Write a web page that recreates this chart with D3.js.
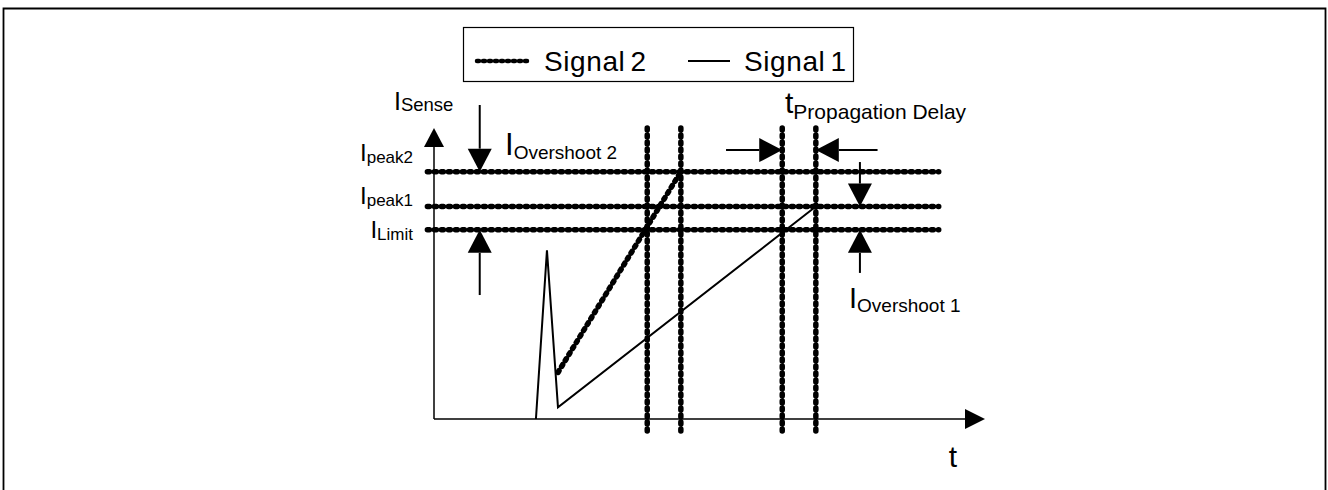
<!DOCTYPE html>
<html>
<head>
<meta charset="utf-8">
<script src="https://cdn.jsdelivr.net/npm/d3@7"></script>
<style>
  body { margin: 0; background: #fff; }
  svg text { font-family: Arial, "Liberation Sans", sans-serif; fill: #000; }
</style>
</head>
<body>
<div id="chart"></div>
<script>
// Current levels (horizontal dotted lines)
var levelNames = ["peak2", "peak1", "Limit"]
var levelValues = [8.5, 7.3, 6.5]

// Times of the vertical dotted marker lines
var markerTimes = [3.87, 4.48, 6.32, 6.93]

// Signal traces: t = time, i = current
var signal1 = [
  {t: 1.85, i: 0},
  {t: 2.05, i: 5.8},
  {t: 2.25, i: 0.4},
  {t: 6.93, i: 7.3}
]
var signal2 = [
  {t: 2.25, i: 1.6},
  {t: 4.48, i: 8.5}
]

var legendLabels = ["Signal2", "Signal1"]

var width = 1328
var height = 490

var svg = d3.select("#chart")
            .append("svg")
            .attr("width", width)
            .attr("height", height)

// outer frame (no bottom edge visible)
svg.append("path")
  .attr("d", "M3.5," + height + " V8.5 H1325.5 V" + height)
  .attr("fill", "none")
  .attr("stroke", "#000")
  .attr("stroke-width", 1.8)

// Scales: time -> px, current -> px
var xscale = d3.scaleLinear().domain([0, 10]).range([434, 985])
var yscale = d3.scaleLinear().domain([0, 10]).range([419, 128])

// draw a line with a filled triangular head at (x2,y2)
function arrow(x1, y1, x2, y2, len, half, sw){
  var dx = x2 - x1, dy = y2 - y1
  var d = Math.sqrt(dx*dx + dy*dy)
  var ux = dx/d, uy = dy/d
  var bx = x2 - ux*len, by = y2 - uy*len
  svg.append("line")
    .attr("x1", x1).attr("y1", y1)
    .attr("x2", bx).attr("y2", by)
    .attr("stroke", "#000")
    .attr("stroke-width", sw)
  svg.append("path")
    .attr("d", "M" + x2 + "," + y2 +
               "L" + (bx - uy*half) + "," + (by + ux*half) +
               "L" + (bx + uy*half) + "," + (by - ux*half) + "Z")
    .attr("fill", "#000")
}

// axes
arrow(xscale(0), yscale(0), xscale(10), yscale(0), 20, 10, 1.5)
arrow(xscale(0), yscale(0), xscale(0), yscale(10), 19, 10, 1.5)

var dotted = function(sel, w){
  return sel.attr("stroke", "#000")
    .attr("stroke-width", w)
    .attr("stroke-linecap", "round")
    .attr("stroke-dasharray", "2,5")
    .attr("fill", "none")
}

// horizontal level lines
svg.selectAll(".level")
  .data(levelValues)
  .enter()
  .append("line")
  .attr("class", "level")
  .attr("x1", xscale(-0.12))
  .attr("x2", xscale(9.16))
  .attr("y1", d => yscale(d))
  .attr("y2", d => yscale(d))
  .call(dotted, 5.5)

// vertical marker lines
svg.selectAll(".marker")
  .data(markerTimes)
  .enter()
  .append("line")
  .attr("class", "marker")
  .attr("x1", d => xscale(d))
  .attr("x2", d => xscale(d))
  .attr("y1", yscale(10.0))
  .attr("y2", yscale(-0.42))
  .call(dotted, 5.5)

var line = d3.line()
  .x(d => xscale(d.t))
  .y(d => yscale(d.i))

svg.append("path")
  .datum(signal1)
  .attr("d", line)
  .attr("fill", "none")
  .attr("stroke", "#000")
  .attr("stroke-width", 2)
  .attr("stroke-linejoin", "miter")

svg.append("path")
  .datum(signal2)
  .attr("d", line)
  .call(dotted, 5.5)

// left labels for the levels, right aligned next to the axis
var labelShift = [-9, -1, 10]
var levelLabels = svg.selectAll(".levelLabel")
  .data(levelValues)
  .enter()
  .append("text")
  .attr("class", "levelLabel")
  .attr("x", 413)
  .attr("y", (d, i) => yscale(d) + labelShift[i] - 2)
  .attr("text-anchor", "end")
  .style("font-size", "24px")
levelLabels.append("tspan").text("I")
levelLabels.append("tspan")
  .attr("dy", 2)
  .style("font-size", "17px")
  .text((d, i) => levelNames[i])

// helper for a big letter with subscript
function subLabel(x, y, main, sub, mainSize, subSize, subDy){
  var t = svg.append("text")
    .attr("x", x)
    .attr("y", y)
    .style("font-size", mainSize + "px")
  t.append("tspan").text(main)
  t.append("tspan")
    .attr("dy", subDy)
    .style("font-size", subSize + "px")
    .text(sub)
}

subLabel(394, 110, "I", "Sense", 25, 18.5, 1)
subLabel(505, 155, "I", "Overshoot 2", 31, 19, 4)
subLabel(785, 113, "t", "Propagation Delay", 30, 21, 6)
subLabel(849, 308, "I", "Overshoot 1", 29, 19, 4)

svg.append("text")
  .attr("x", 953)
  .attr("y", 467)
  .attr("text-anchor", "middle")
  .style("font-size", "30px")
  .text("t")

// overshoot / delay annotation arrows
var ax2 = xscale(0.83)
arrow(ax2, yscale(10.79), ax2, yscale(levelValues[0]), 23, 12, 2)
arrow(ax2, yscale(4.26), ax2, yscale(levelValues[2]), 23, 12, 2)

var ax1 = xscale(7.73)
arrow(ax1, yscale(8.83), ax1, yscale(levelValues[1]), 23, 12, 2)
arrow(ax1, yscale(5.02), ax1, yscale(levelValues[2]), 23, 12, 2)

var ay = yscale(9.24)
arrow(xscale(5.30), ay, xscale(markerTimes[2]), ay, 23, 12, 2)
arrow(xscale(8.05), ay, xscale(markerTimes[3]), ay, 23, 12, 2)

// legend
var legend = svg.append("g")
legend.append("rect")
  .attr("x", 463.5)
  .attr("y", 27.5)
  .attr("width", 390)
  .attr("height", 54)
  .attr("fill", "#fff")
  .attr("stroke", "#000")
  .attr("stroke-width", 1.2)

legend.append("line")
  .attr("x1", 477).attr("x2", 531)
  .attr("y1", 61).attr("y2", 61)
  .attr("stroke", "#000")
  .attr("stroke-width", 4.5)
  .attr("stroke-linecap", "round")
  .attr("stroke-dasharray", "2,4")

legend.append("line")
  .attr("x1", 688).attr("x2", 730)
  .attr("y1", 61).attr("y2", 61)
  .attr("stroke", "#000")
  .attr("stroke-width", 2)

var legendX = [544, 744]
legend.selectAll(".legText")
  .data(legendLabels)
  .enter()
  .append("text")
  .attr("class", "legText")
  .attr("x", (d, i) => legendX[i])
  .attr("y", 71)
  .style("font-size", "28px")
  .style("letter-spacing", "0.6px")
  .each(function(d){
    var el = d3.select(this)
    el.append("tspan").text(d.slice(0, -1))
    el.append("tspan").attr("dx", 5).text(d.slice(-1))
  })
</script>
</body>
</html>
